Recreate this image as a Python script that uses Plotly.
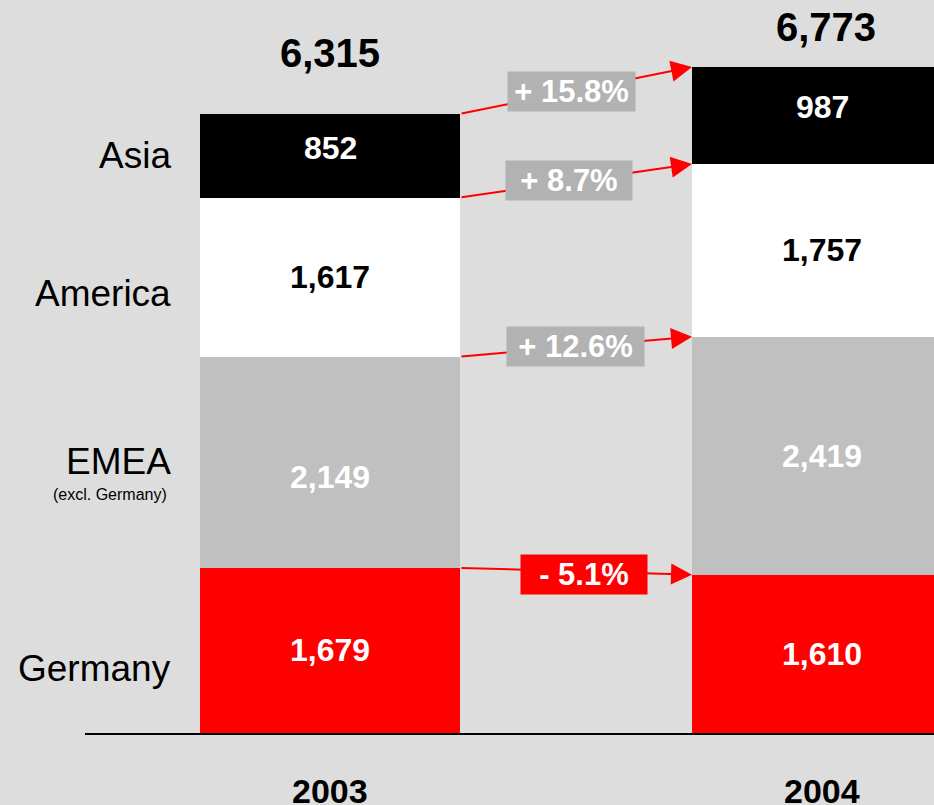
import plotly.graph_objects as go

# data
years = ["2003", "2004"]
regions = ["Germany", "EMEA", "America", "Asia"]
germany = [1679, 1610]
emea = [2149, 2419]
america = [1617, 1757]
asia = [852, 987]
totals = [6315, 6773]
growth_labels = ["- 5.1%", "+ 12.6%", "+ 8.7%", "+ 15.8%"]
region_labels = ["Germany", "EMEA", "America", "Asia"]
emea_note = "(excl. Germany)"

FONT = "Liberation Sans, Arial, sans-serif"
BG = "#dddddd"
bar_colors = ["#ff0000", "#c0c0c0", "#ffffff", "#000000"]
text_colors = ["white", "white", "black", "white"]
box_colors = ["#ff0000", "#b2b2b2", "#b2b2b2", "#b2b2b2"]
BAR_W = 0.5285
xpos = [0, 1]

series = [germany, emea, america, asia]

fig = go.Figure()
for name, vals, col in zip(regions, series, bar_colors):
    fig.add_trace(go.Bar(x=xpos, y=vals, name=name, width=BAR_W,
                         marker=dict(color=col, line=dict(width=0)),
                         showlegend=False, hoverinfo="skip"))

ann = []
# value labels inside segments (small nudges to match the original slide)
nudge = {(3, 0): 8, (1, 0): -15, (3, 1): 9}
for s, vals in enumerate(series):
    for i, v in enumerate(vals):
        base = sum(series[k][i] for k in range(s))
        ann.append(dict(x=xpos[i], y=base + v / 2, text=f"<b>{v:,}</b>", showarrow=False,
                        yshift=nudge.get((s, i), 0),
                        font=dict(family=FONT, size=32, color=text_colors[s])))

# totals above the bars
tot_shift = [35, 16]
for i, t in enumerate(totals):
    ann.append(dict(x=xpos[i], y=t, text=f"<b>{t:,}</b>", showarrow=False, yanchor="bottom",
                    yshift=tot_shift[i], xshift=[0, 4][i],
                    font=dict(family=FONT, size=40, color="black")))

# year labels under the axis
for i, yr in enumerate(years):
    ann.append(dict(x=xpos[i], y=0, text=f"<b>{yr}</b>", showarrow=False, yanchor="top",
                    yshift=-37, font=dict(family=FONT, size=34, color="black")))

# region labels on the left
lab_shift = [-18, 1, -16, 0]
for s, lab in enumerate(region_labels):
    base = sum(series[k][0] for k in range(s))
    ann.append(dict(x=-0.32, y=base + series[s][0] / 2, text=lab, showarrow=False,
                    xanchor="right", align="right", yshift=lab_shift[s],
                    font=dict(family=FONT, size=37, color="black")))
ann.append(dict(x=-0.328, y=germany[0] + emea[0] / 2, text=emea_note, showarrow=False,
                xanchor="right", yshift=-32, font=dict(family=FONT, size=16, color="black")))

# growth arrows between the segment tops
x_tail = xpos[0] + BAR_W / 2
x_tip = xpos[1] - BAR_W / 2
for s in range(4):
    y0 = sum(series[k][0] for k in range(s + 1))
    y1 = sum(series[k][1] for k in range(s + 1))
    ann.append(dict(x=x_tip, y=y1, ax=x_tail, ay=y0, axref="x", ayref="y",
                    xref="x", yref="y", text="", showarrow=True,
                    arrowhead=2, arrowsize=2.1, arrowwidth=2, arrowcolor="#ff0000", standoff=0))
box_w = [124, 135, 124, 125]
box_dx = [8, -1, -7, -5]
box_dy = [-3, 0, 0, -1]
for s in range(4):
    y0 = sum(series[k][0] for k in range(s + 1))
    y1 = sum(series[k][1] for k in range(s + 1))
    ann.append(dict(x=(x_tail + x_tip) / 2, y=(y0 + y1) / 2, text=f"<b>{growth_labels[s]}</b>",
                    showarrow=False, bgcolor=box_colors[s], borderpad=1,
                    width=box_w[s], height=37, align="center", valign="middle",
                    xshift=box_dx[s], yshift=box_dy[s],
                    font=dict(family=FONT, size=31, color="white")))

fig.update_layout(
    width=934, height=805,
    margin=dict(l=85, r=0, t=0, b=72),
    paper_bgcolor=BG, plot_bgcolor=BG,
    barmode="stack",
    xaxis=dict(range=[-0.498, 1.2276], showgrid=False, zeroline=False, showticklabels=False,
               showline=True, linecolor="black", linewidth=1.5, ticks=""),
    yaxis=dict(range=[0, 7454], showgrid=False, zeroline=False, showticklabels=False,
               showline=False),
    annotations=ann,
)

fig.write_html("out.html", config={"displayModeBar": False},
               post_script="document.body.style.margin='0';")
